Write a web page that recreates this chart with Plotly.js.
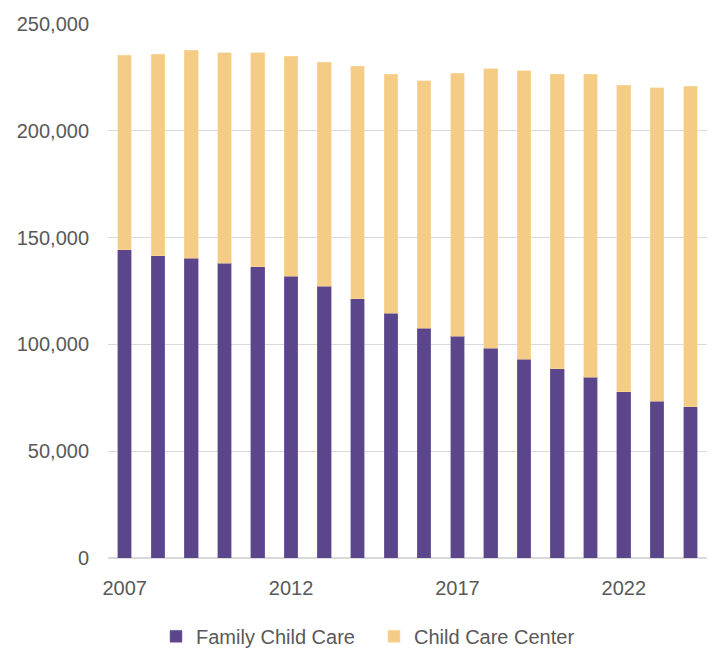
<!DOCTYPE html>
<html>
<head>
<meta charset="utf-8">
<script src="https://cdn.plot.ly/plotly-3.0.1.min.js"></script>
<style>html,body{margin:0;padding:0;background:#fff;}#chart{width:717px;height:650px;}</style>
</head>
<body>
<div id="chart"></div>
<script>
var years = [2007,2008,2009,2010,2011,2012,2013,2014,2015,2016,2017,2018,2019,2020,2021,2022,2023,2024];
var familyChildCare = [144200,141500,140300,138100,136400,131900,127300,121300,114600,107600,103800,98200,93100,88600,84700,77800,73500,70900];
var totalCapacity = [235300,235900,237600,236500,236500,234800,232000,230300,226400,223400,226900,229100,228000,226400,226400,221300,220200,220800];
var childCareCenter = totalCapacity.map(function(t,i){return t - familyChildCare[i];});
var xTickVals = [2007,2012,2017,2022];
var yTickVals = [0,50000,100000,150000,200000,250000];

var fontFam = "Liberation Sans, Arial, sans-serif";
var textColor = "#595959";

var data = [
  {type:"bar", name:"Family Child Care", x:years, y:familyChildCare,
   marker:{color:"#5b468c", line:{color:"#7d6aa8", width:0.5}}, hoverinfo:"x+y"},
  {type:"bar", name:"Child Care Center", x:years, y:childCareCenter,
   marker:{color:"#f5cc85", line:{color:"#f8dba8", width:0.5}}, hoverinfo:"x+y"}
];

var layout = {
  width:717, height:650,
  barmode:"stack", bargap:0.59,
  margin:{l:108, r:10, t:23.5, b:91.5, autoexpand:false},
  paper_bgcolor:"#fff", plot_bgcolor:"#fff",
  font:{family:fontFam, color:textColor, size:20},
  xaxis:{
    range:[2006.5,2024.5], tickvals:xTickVals, ticktext:xTickVals.map(String),
    showgrid:false, zeroline:false, showline:false, ticks:"",
    tickfont:{size:20, color:textColor}, ticklabelstandoff:16, automargin:false
  },
  yaxis:{
    range:[0,250000], tickvals:yTickVals, tickformat:",d",
    showgrid:true, gridcolor:"#d9d9d9", gridwidth:1.3,
    zeroline:true, zerolinecolor:"#d9d9d9", zerolinewidth:1.3,
    showline:false, ticks:"", tickfont:{size:20, color:textColor},
    ticklabelstandoff:18, automargin:false
  },
  showlegend:true,
  legend:{orientation:"h", xref:"container", x:156/717, xanchor:"left", yref:"container", y:0.051, yanchor:"top",
    font:{size:20, color:textColor}, itemwidth:30, entrywidth:173, entrywidthmode:"pixels",
    traceorder:"normal", tracegroupgap:0}
};

Plotly.newPlot("chart", data, layout, {displayModeBar:false, staticPlot:true});
</script>
</body>
</html>
